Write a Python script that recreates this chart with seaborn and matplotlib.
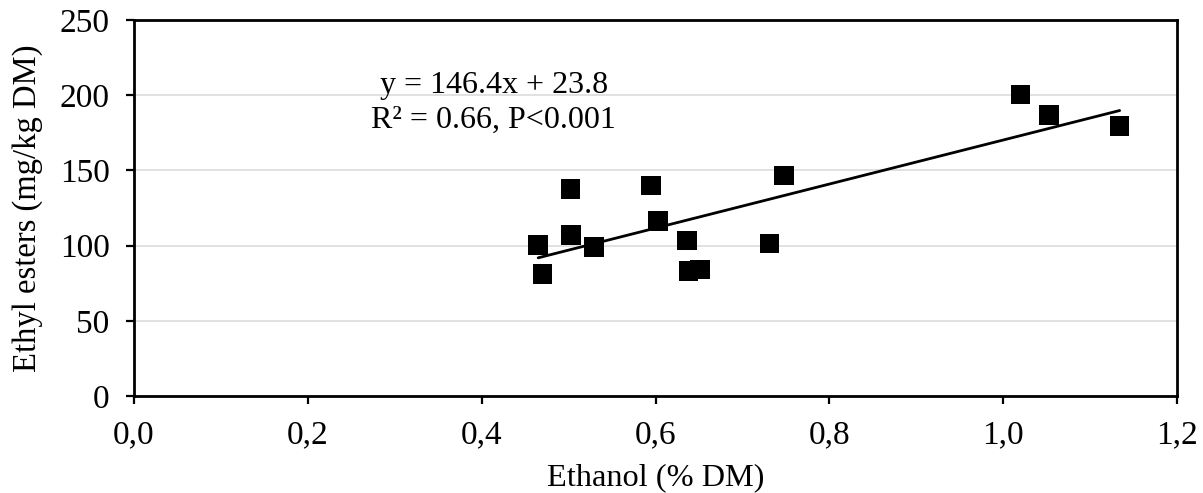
import numpy as np
import pandas as pd
import matplotlib
matplotlib.use("Agg")
import matplotlib.pyplot as plt
import seaborn as sns
from matplotlib.ticker import FuncFormatter, MultipleLocator

# Data
ethanol = [0.465, 0.470, 0.502, 0.503, 0.529, 0.595, 0.603, 0.636, 0.638, 0.651, 0.731, 0.748, 1.020, 1.053, 1.134]
ethyl_esters = [100.5, 81, 137.5, 107, 99, 140, 116.5, 103.5, 83, 84, 101.5, 146.5, 200.5, 187, 179.5]
slope = 146.4
intercept = 23.8
eq_lines = ["y = 146.4x + 23.8", "R\u00b2 = 0.66, P<0.001"]

df = pd.DataFrame({"x": ethanol, "y": ethyl_esters})
xfit = np.array([min(ethanol), max(ethanol)])
fit = pd.DataFrame({"x": xfit, "y": slope * xfit + intercept})

sns.set_theme(style="white")
plt.rcParams["font.family"] = ["Liberation Serif", "DejaVu Serif"]

fig = plt.figure(figsize=(12.03, 4.93), dpi=100)
ax = fig.add_axes([0.1114, 0.1968, 0.9784 - 0.1114, 0.9594 - 0.1968])

ax.grid(axis="y", color="#d9d9d9", linewidth=1.1, zorder=0)
ax.set_axisbelow(True)

sns.lineplot(data=fit, x="x", y="y", ax=ax, color="black", linewidth=2.0, zorder=3)
sns.scatterplot(data=df, x="x", y="y", ax=ax, marker="s", s=200, color="black",
                edgecolor="none", zorder=4)

ax.set_xlim(0, 1.2)
ax.set_ylim(0, 250)
ax.xaxis.set_major_locator(MultipleLocator(0.2))
ax.yaxis.set_major_locator(MultipleLocator(50))
ax.xaxis.set_major_formatter(FuncFormatter(lambda v, p: f"{v:.1f}".replace(".", ",")))
ax.yaxis.set_major_formatter(FuncFormatter(lambda v, p: f"{int(round(v))}"))

for sp in ax.spines.values():
    sp.set_visible(True)
    sp.set_color("black")
    sp.set_linewidth(2.0)

ax.tick_params(axis="both", which="major", direction="out", length=6, width=1.6,
               color="black", labelsize=24, labelcolor="black",
               bottom=True, left=True)
ax.tick_params(axis="x", pad=11)
ax.tick_params(axis="y", pad=11.5)

ax.set_xlabel("Ethanol (% DM)", fontsize=23.3, color="black", labelpad=9.5)
ax.set_ylabel("Ethyl esters (mg/kg DM)", fontsize=23.5, color="black", labelpad=12)

ax.text(0.345, 0.779, "\n".join(eq_lines), transform=ax.transAxes, ha="center",
        va="center", fontsize=23, color="black", linespacing=1.25)

fig.savefig("out.png", dpi=100)
